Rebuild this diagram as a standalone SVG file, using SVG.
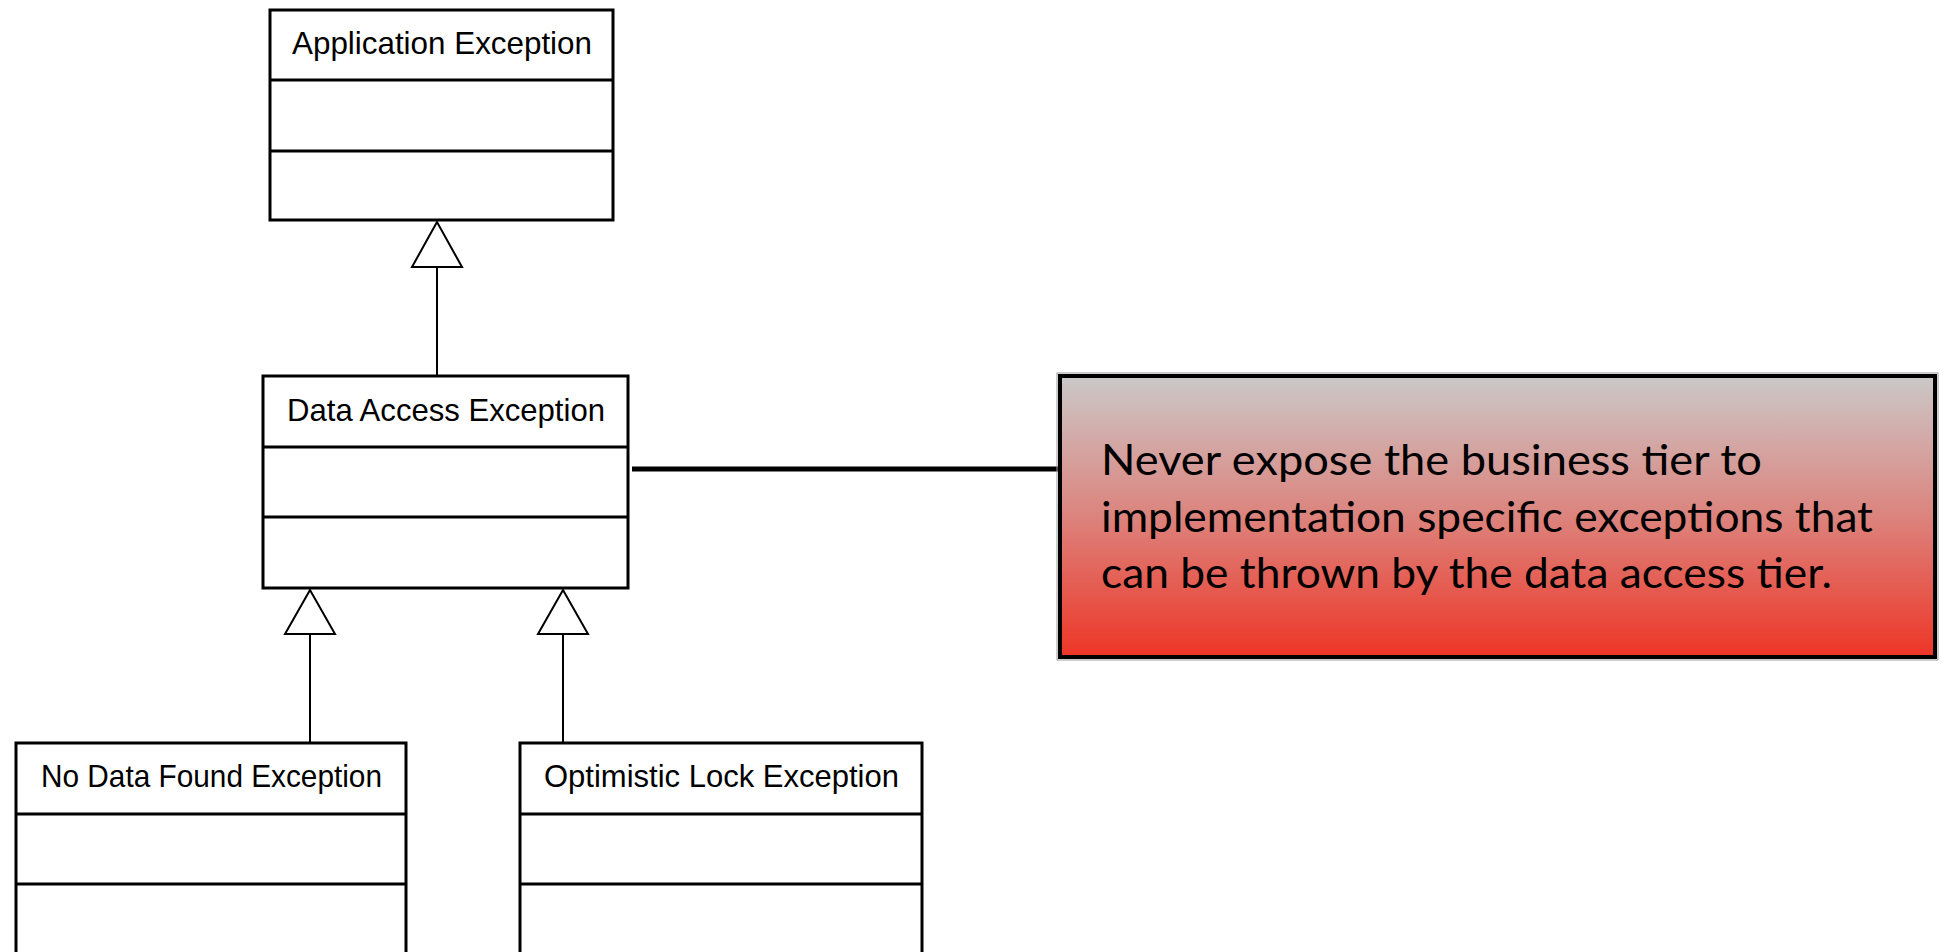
<svg xmlns="http://www.w3.org/2000/svg" width="1947" height="952" viewBox="0 0 1947 952">
  <style>
    .box { fill: #ffffff; stroke: #000000; stroke-width: 3; }
    .sep { stroke: #000000; stroke-width: 3; }
    .cls { font-family: "Liberation Sans", Arial, sans-serif; font-size: 31.5px; fill: #000000; }
    .edge { stroke: #000000; stroke-width: 2; fill: none; }
    .tri { fill: #ffffff; stroke: #000000; stroke-width: 2; stroke-linejoin: miter; }
    .note-text { font-family: Lato, "Open Sans", sans-serif; font-size: 43px; fill: #000000; }
  </style>
  <defs>
    <linearGradient id="noteFill" x1="0" y1="0" x2="0" y2="1">
      <stop offset="0" stop-color="#cbc9c9"/>
      <stop offset="0.5" stop-color="#dc837d"/>
      <stop offset="1" stop-color="#ee3526"/>
    </linearGradient>
  </defs>

  <rect width="1947" height="952" fill="#ffffff"/>

  <!-- inheritance connectors and the note link -->
  <g id="connectors">
    <line class="edge" x1="437" y1="267" x2="437" y2="376"/>
    <polygon class="tri" points="437,222 412,267 462,267"/>
    <line class="edge" x1="310" y1="634" x2="310" y2="743"/>
    <polygon class="tri" points="310,590 285,634 335,634"/>
    <line class="edge" x1="563" y1="634" x2="563" y2="743"/>
    <polygon class="tri" points="563,590 538,634 588,634"/>
    <line x1="632" y1="469" x2="1060" y2="469" stroke="#000000" stroke-width="5"/>
  </g>

  <g id="application-exception">
    <rect class="box" x="270" y="10" width="343" height="210"/>
    <line class="sep" x1="270" y1="80" x2="613" y2="80"/>
    <line class="sep" x1="270" y1="151" x2="613" y2="151"/>
    <text class="cls" x="292" y="54" textLength="300" lengthAdjust="spacingAndGlyphs">Application Exception</text>
  </g>

  <g id="data-access-exception">
    <rect class="box" x="263" y="376" width="365" height="212"/>
    <line class="sep" x1="263" y1="447" x2="628" y2="447"/>
    <line class="sep" x1="263" y1="517" x2="628" y2="517"/>
    <text class="cls" x="287" y="421" textLength="318" lengthAdjust="spacingAndGlyphs">Data Access Exception</text>
  </g>

  <g id="no-data-found-exception">
    <rect class="box" x="16" y="743" width="390" height="240"/>
    <line class="sep" x1="16" y1="814" x2="406" y2="814"/>
    <line class="sep" x1="16" y1="884" x2="406" y2="884"/>
    <text class="cls" x="41" y="787" textLength="341" lengthAdjust="spacingAndGlyphs">No Data Found Exception</text>
  </g>

  <g id="optimistic-lock-exception">
    <rect class="box" x="520" y="743" width="402" height="240"/>
    <line class="sep" x1="520" y1="814" x2="922" y2="814"/>
    <line class="sep" x1="520" y1="884" x2="922" y2="884"/>
    <text class="cls" x="544" y="787" textLength="355" lengthAdjust="spacingAndGlyphs">Optimistic Lock Exception</text>
  </g>

  <g id="note">
    <rect x="1057" y="373" width="881" height="287" fill="none" stroke="#9a9a9a" stroke-width="1"/>
    <rect x="1060" y="376" width="875" height="281" fill="url(#noteFill)" stroke="#000000" stroke-width="4"/>
    <text class="note-text" x="1101" y="475" textLength="661" lengthAdjust="spacingAndGlyphs">Never expose the business tier to</text>
    <text class="note-text" x="1101" y="532" textLength="772" lengthAdjust="spacingAndGlyphs">implementation specific exceptions that</text>
    <text class="note-text" x="1101" y="588" textLength="731" lengthAdjust="spacingAndGlyphs">can be thrown by the data access tier.</text>
  </g>
</svg>
